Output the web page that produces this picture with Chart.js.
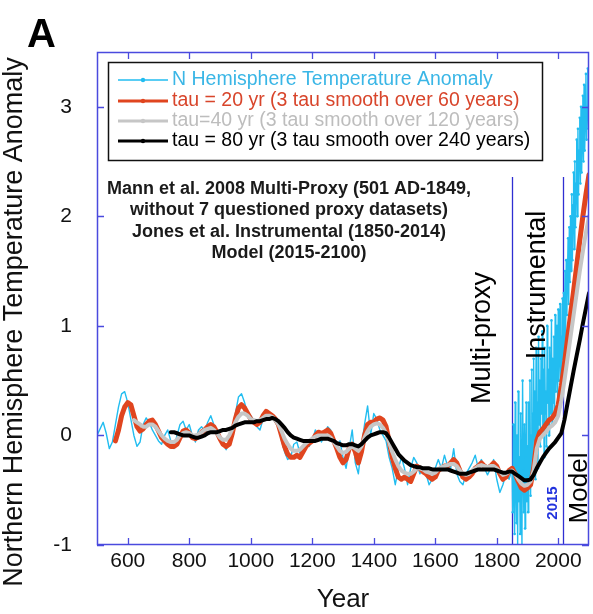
<!DOCTYPE html>
<html><head><meta charset="utf-8">
<script src="https://cdn.jsdelivr.net/npm/chart.js@4.4.0/dist/chart.umd.min.js"></script>
<style>html,body{margin:0;padding:0;background:#fff;overflow:hidden}#wrap{width:593px;height:614px;position:relative}</style>
</head><body><div id="wrap"><canvas id="c" width="593" height="614"></canvas></div>
<script>
// ---------- DATA ----------
const xTickLabels = [600, 800, 1000, 1200, 1400, 1600, 1800, 2000];
const yTickLabels = [-1, 0, 1, 2, 3];
function years(start, end, step) { const a = []; for (let v = start; v <= end; v += step) a.push(v); return a; }

const seriesNames = [
  'N Hemisphere Temperature Anomaly',
  'tau = 20 yr (3 tau smooth over 60 years)',
  'tau=40 yr (3 tau smooth over 120 years)',
  'tau = 80 yr (3 tau smooth over 240 years)'
];

// Cyan: Mann 2008 proxy (decadal) + Jones instrumental + model (2-yr)
const cyanYears = years(500, 1840, 10).concat(years(1850, 2100, 2));
const cyanValues = [
  0.0, 0.06, 0.12, 0.02, -0.12, -0.06, 0.1, 0.26, 0.38, 0.4,
  0.3, 0.15, 0.0, -0.1, -0.06, 0.1, 0.16, 0.12, 0.05, 0.0,
  -0.05, -0.08, 0.0, 0.05, -0.05, -0.12, 0.0, 0.1, 0.13, 0.05,
  0.1, 0.0, -0.06, 0.05, 0.08, 0.04, 0.12, 0.18, 0.1, 0.04,
  0.0, -0.08, -0.13, -0.05, 0.05, 0.2, 0.35, 0.38, 0.3, 0.2,
  0.18, 0.14, 0.08, 0.05, 0.15, 0.23, 0.18, 0.16, 0.12, 0.08,
  -0.05, -0.15, -0.22, -0.2, -0.08, -0.06, -0.16, -0.12, -0.05, -0.1,
  -0.05, 0.05, 0.0, -0.06, 0.0, 0.08, 0.05, -0.05, -0.1, -0.05,
  -0.2, -0.3, -0.12, 0.05, -0.25, -0.35, -0.1, 0.1, 0.27, 0.0,
  0.2, 0.15, 0.05, 0.0, -0.05, -0.2, -0.3, -0.45, -0.3, -0.2,
  -0.3, -0.45, -0.3, -0.2, -0.25, -0.35, -0.3, -0.35, -0.45, -0.4,
  -0.3, -0.22, -0.3, -0.18, -0.28, -0.3, -0.12, -0.35, -0.42, -0.45,
  -0.35, -0.3, -0.25, -0.18, -0.3, -0.22, -0.3, -0.36, -0.3, -0.22,
  -0.4, -0.52, -0.45, -0.35, -0.4,
  // 1850 - 1898
  -0.3, -0.7, 0.1, -0.5, -0.9, 0.3, -0.4, -0.8, 0.0, -1.0, 0.4, -0.6, -0.2, -0.9, 0.2, -0.5, -1.0, 0.5, -0.3, -0.7, 0.1, -0.85, -0.2, 0.3, -0.6,
  // 1900 - 1948
  -0.1, -0.7, 0.3, -0.4, 0.5, -0.55, 0.0, 0.6, -0.3, 0.2, 0.7, -0.2, 0.4, -0.4, 0.8, 0.0, 0.3, -0.3, 0.9, 0.1, 0.5, -0.1, 0.7, 0.2, 0.95,
  // 1950 - 1998
  0.0, 0.6, -0.2, 0.8, 0.2, 0.4, -0.1, 1.0, 0.3, 0.6, 0.0, 0.8, 0.2, 0.5, 1.05, 0.1, 0.7, 0.3, 0.9, 0.2, 1.1, 0.4, 0.6, 1.0, 0.3,
  // 2000 - 2048
  1.15, 0.5, 0.8, 1.2, 0.4, 0.9, 0.6, 1.25, 0.7, 1.3, 0.8, 1.5, 0.9, 1.6, 1.1, 1.45, 1.8, 1.2, 1.9, 1.4, 2.0, 1.5, 2.2, 1.6, 2.1,
  // 2050 - 2100
  2.4, 1.7, 2.5, 1.9, 2.3, 2.7, 2.0, 2.8, 2.2, 2.6, 2.9, 2.3, 3.0, 2.4, 2.7, 3.1, 2.5, 3.2, 2.6, 2.9, 3.3, 2.7, 3.0, 3.35, 2.8, 3.1
];

const redYears = years(560, 2100, 10);
const redValues = [
  -0.05, 0.05, 0.18, 0.26,
  0.3, 0.28, 0.18, 0.08, 0.04, 0.06, 0.1, 0.13, 0.14, 0.1,
  0.04, -0.02, -0.05, -0.08, -0.1, -0.1, -0.08, -0.02, 0.04, 0.05,
  0.02, -0.02, -0.03, 0.0, 0.03, 0.05, 0.08, 0.1, 0.08, 0.03,
  -0.03, -0.08, -0.1, -0.08, 0.02, 0.15, 0.25, 0.28, 0.25, 0.2,
  0.15, 0.12, 0.1, 0.12, 0.18, 0.22, 0.2, 0.18, 0.15, 0.1,
  0.0, -0.1, -0.17, -0.2, -0.2, -0.18, -0.2, -0.15, -0.1, -0.07,
  -0.05, 0.0, 0.03, 0.02, 0.03, 0.05, 0.02, -0.05, -0.12, -0.2,
  -0.25, -0.22, -0.12, -0.08, -0.15, -0.25, -0.15, 0.0, 0.1, 0.12,
  0.12, 0.15, 0.16, 0.14, 0.08, -0.05, -0.2, -0.3, -0.38, -0.4,
  -0.38, -0.4, -0.42, -0.35, -0.28, -0.3, -0.33, -0.35, -0.38, -0.4,
  -0.38, -0.32, -0.3, -0.28, -0.28, -0.25, -0.22, -0.25, -0.32, -0.38,
  -0.4, -0.38, -0.35, -0.3, -0.28, -0.25, -0.28, -0.3, -0.28, -0.25,
  -0.28, -0.35, -0.4, -0.38, -0.32, -0.3, -0.35, -0.42, -0.48, -0.5,
  -0.48, -0.45, -0.3, -0.05, 0.03, 0.06, 0.1, 0.14, 0.16, 0.2,
  0.28, 0.45, 0.65, 0.88, 1.1, 1.32, 1.55, 1.78, 2.0, 2.2,
  2.38
];

const grayYears = years(620, 2100, 10);
const grayValues = [
  0.14, 0.12, 0.1, 0.08, 0.08, 0.1, 0.1, 0.08,
  0.04, 0.0, -0.03, -0.05, -0.06, -0.06, -0.04, 0.0, 0.02, 0.03,
  0.02, 0.0, 0.0, 0.01, 0.03, 0.05, 0.06, 0.07, 0.05, 0.02,
  -0.02, -0.04, -0.04, 0.0, 0.06, 0.12, 0.17, 0.2, 0.2, 0.18,
  0.15, 0.14, 0.13, 0.14, 0.16, 0.18, 0.18, 0.17, 0.14, 0.1,
  0.04, -0.03, -0.08, -0.12, -0.14, -0.14, -0.13, -0.1, -0.07, -0.05,
  -0.03, -0.01, 0.0, 0.0, 0.0, 0.0, -0.02, -0.06, -0.1, -0.14,
  -0.16, -0.15, -0.12, -0.1, -0.12, -0.14, -0.1, -0.02, 0.04, 0.08,
  0.1, 0.11, 0.1, 0.07, 0.02, -0.06, -0.15, -0.22, -0.28, -0.32,
  -0.34, -0.35, -0.35, -0.33, -0.3, -0.3, -0.31, -0.33, -0.34, -0.35,
  -0.34, -0.31, -0.29, -0.28, -0.27, -0.26, -0.26, -0.28, -0.32, -0.35,
  -0.36, -0.35, -0.32, -0.3, -0.28, -0.27, -0.28, -0.29, -0.28, -0.28,
  -0.3, -0.33, -0.36, -0.35, -0.33, -0.32, -0.35, -0.4, -0.44, -0.46,
  -0.45, -0.42, -0.32, -0.12, -0.03, 0.0, 0.03, 0.07, 0.09, 0.12,
  0.18, 0.32, 0.5, 0.7, 0.9, 1.1, 1.3, 1.5, 1.68, 1.85,
  2.0
];

const blackYears = years(740, 2100, 10);
const blackValues = [
  0.03, 0.03, 0.02, 0.01, 0.0, 0.0,
  0.0, -0.01, -0.02, -0.02, -0.01, 0.0, 0.02, 0.03, 0.03, 0.03,
  0.04, 0.05, 0.05, 0.06, 0.07, 0.09, 0.1, 0.11, 0.12, 0.12,
  0.12, 0.12, 0.13, 0.13, 0.14, 0.15, 0.15, 0.16, 0.15, 0.13,
  0.1, 0.07, 0.03, 0.0, -0.02, -0.03, -0.04, -0.05, -0.05, -0.05,
  -0.05, -0.05, -0.04, -0.03, -0.03, -0.03, -0.04, -0.05, -0.07, -0.08,
  -0.09, -0.09, -0.08, -0.08, -0.09, -0.1, -0.08, -0.05, -0.02, 0.0,
  0.01, 0.02, 0.03, 0.03, 0.02, -0.02, -0.07, -0.12, -0.17, -0.2,
  -0.23, -0.25, -0.27, -0.28, -0.29, -0.29, -0.3, -0.3, -0.3, -0.31,
  -0.31, -0.31, -0.31, -0.31, -0.31, -0.32, -0.33, -0.34, -0.35, -0.35,
  -0.35, -0.34, -0.33, -0.32, -0.31, -0.31, -0.31, -0.31, -0.31, -0.31,
  -0.32, -0.33, -0.34, -0.34, -0.33, -0.33, -0.35, -0.37, -0.39, -0.41,
  -0.41, -0.4, -0.36, -0.3, -0.25, -0.2, -0.16, -0.12, -0.09, -0.06,
  -0.02, 0.02, 0.14, 0.29, 0.44, 0.59, 0.73, 0.87, 1.02, 1.16,
  1.3
];

const periodLineYears = [1850, 2015];
const periodLineTopValue = 2.36;
const annotationLines = [
  'Mann et al. 2008 Multi-Proxy (501 AD-1849,',
  'without 7 questioned proxy datasets)',
  'Jones et al. Instrumental (1850-2014)',
  'Model (2015-2100)'
];

// ---------- STYLE ----------
const FONT = "'Liberation Sans', Arial, Helvetica, sans-serif";
const colCyan = '#22bdf0', colRed = '#e0451f', colGray = '#c6c6c6', colBlack = '#000000';
const legendTextColors = ['#3ab6e6', '#d8452b', '#bdbdbd', '#000000'];
const frameBlue = '#4a4ade';
const lineBlue = '#2f2fd2';

function pts(xs, ys) { return xs.map((x, i) => ({ x: x, y: ys[i] })); }

const decor = {
  id: 'decor',
  beforeDatasetsDraw(chart) {
    const { ctx, chartArea: a, scales: { x, y } } = chart;
    ctx.save();
    ctx.strokeStyle = lineBlue; ctx.lineWidth = 1.3;
    const top = y.getPixelForValue(periodLineTopValue);
    periodLineYears.forEach(yr => {
      const px = Math.round(x.getPixelForValue(yr)) + 0.5;
      ctx.beginPath(); ctx.moveTo(px, top); ctx.lineTo(px, a.bottom); ctx.stroke();
    });
    ctx.restore();
  },
  afterDraw(chart) {
    const { ctx, chartArea: a, scales: { x, y } } = chart;
    ctx.save();
    // frame
    ctx.strokeStyle = frameBlue; ctx.lineWidth = 1.5;
    ctx.strokeRect(a.left + 0.5, a.top + 0.5, a.right - a.left - 1, a.bottom - a.top - 1);
    // inward ticks
    const tl = 7;
    ctx.lineWidth = 1.3;
    xTickLabels.forEach(v => {
      const px = Math.round(x.getPixelForValue(v)) + 0.5;
      ctx.beginPath();
      ctx.moveTo(px, a.bottom); ctx.lineTo(px, a.bottom - tl);
      ctx.moveTo(px, a.top); ctx.lineTo(px, a.top + tl);
      ctx.stroke();
    });
    yTickLabels.forEach(v => {
      const py = Math.round(y.getPixelForValue(v)) + 0.5;
      ctx.beginPath();
      ctx.moveTo(a.left, py); ctx.lineTo(a.left + tl, py);
      ctx.moveTo(a.right, py); ctx.lineTo(a.right - tl, py);
      ctx.stroke();
    });

    // panel letter
    ctx.fillStyle = '#000';
    ctx.font = 'bold 40px ' + FONT;
    ctx.textAlign = 'left'; ctx.textBaseline = 'alphabetic';
    ctx.fillText('A', 27, 47);

    // axis titles
    ctx.textAlign = 'center'; ctx.textBaseline = 'middle';
    ctx.fillStyle = '#111';
    ctx.font = '26px ' + FONT;
    ctx.fillText('Year', (a.left + a.right) / 2, 600);
    ctx.save();
    ctx.font = '27px ' + FONT;
    ctx.translate(15, 322); ctx.rotate(-Math.PI / 2);
    ctx.fillText('Northern Hemisphere Temperature Anomaly', 0, 0);
    ctx.restore();

    // annotation block
    ctx.font = 'bold 18px ' + FONT;
    ctx.fillStyle = '#1a1a1a';
    const ay = [189, 210, 232, 253];
    annotationLines.forEach((t, i) => ctx.fillText(t, 289, ay[i]));

    // vertical period labels
    const vtext = (t, cx, cy, font, color) => {
      ctx.save(); ctx.translate(cx, cy); ctx.rotate(-Math.PI / 2);
      ctx.font = font; ctx.fillStyle = color; ctx.textAlign = 'center'; ctx.textBaseline = 'middle';
      ctx.fillText(t, 0, 0); ctx.restore();
    };
    vtext('Multi-proxy', 483, 338, '27px ' + FONT, '#000');
    vtext('Instrumental', 538, 285, '27px ' + FONT, '#000');
    vtext('Model', 580, 488, '26px ' + FONT, '#000');
    vtext('2015', 553, 503, 'bold 15px ' + FONT, '#2233dd');

    // legend
    const bx = 108, by = 62, bw = 434, bh = 98;
    ctx.fillStyle = '#fff'; ctx.fillRect(bx, by, bw, bh);
    ctx.strokeStyle = '#111'; ctx.lineWidth = 1.5;
    ctx.strokeRect(bx + 0.5, by + 0.5, bw, bh);
    const rows = [80, 101, 121, 141];
    const lw = [1.5, 3, 3, 3];
    const lc = [colCyan, colRed, colGray, colBlack];
    ctx.font = '19.5px ' + FONT; ctx.textAlign = 'left'; ctx.textBaseline = 'middle';
    seriesNames.forEach((n, i) => {
      ctx.strokeStyle = lc[i]; ctx.lineWidth = lw[i];
      ctx.beginPath(); ctx.moveTo(118, rows[i]); ctx.lineTo(168, rows[i]); ctx.stroke();
      ctx.fillStyle = lc[i];
      ctx.beginPath(); ctx.arc(143, rows[i], 2.2, 0, Math.PI * 2); ctx.fill();
      ctx.fillStyle = legendTextColors[i];
      ctx.fillText(n, 172, rows[i]);
    });
    ctx.restore();
  }
};

new Chart(document.getElementById('c'), {
  type: 'line',
  data: {
    datasets: [
      { label: seriesNames[0], data: pts(cyanYears, cyanValues), borderColor: colCyan, backgroundColor: colCyan,
        borderWidth: 1.4, pointRadius: c => (c.raw && c.raw.x >= 1850) ? 1.3 : 0, pointBorderWidth: 0, order: 4 },
      { label: seriesNames[1], data: pts(redYears, redValues), borderColor: colRed, backgroundColor: colRed,
        borderWidth: 5, pointRadius: 0, order: 3 },
      { label: seriesNames[2], data: pts(grayYears, grayValues), borderColor: colGray, backgroundColor: colGray,
        borderWidth: 4, pointRadius: 0, order: 2 },
      { label: seriesNames[3], data: pts(blackYears, blackValues), borderColor: colBlack, backgroundColor: colBlack,
        borderWidth: 4, pointRadius: 0, order: 1 }
    ]
  },
  options: {
    responsive: false, animation: false, devicePixelRatio: 1,
    layout: { padding: { left: 0, right: 2, top: 52, bottom: 0 } },
    elements: { line: { tension: 0, borderJoinStyle: 'round', borderCapStyle: 'round' } },
    plugins: { legend: { display: false }, tooltip: { enabled: false } },
    scales: {
      x: {
        type: 'linear', min: 500, max: 2100,
        afterBuildTicks: s => { s.ticks = xTickLabels.map(v => ({ value: v })); },
        afterFit: s => { s.height = 69; },
        grid: { display: false, drawTicks: false }, border: { display: false },
        ticks: { font: { family: FONT, size: 21 }, color: '#111', padding: 4, maxRotation: 0, autoSkip: false,
                 callback: v => String(v) }
      },
      y: {
        type: 'linear', min: -1, max: 3.5,
        afterBuildTicks: s => { s.ticks = yTickLabels.map(v => ({ value: v })); },
        afterFit: s => { s.width = 97; },
        grid: { display: false, drawTicks: false }, border: { display: false },
        ticks: { font: { family: FONT, size: 21 }, color: '#111', padding: 25, callback: v => String(v) }
      }
    }
  },
  plugins: [decor]
});
</script></body></html>
